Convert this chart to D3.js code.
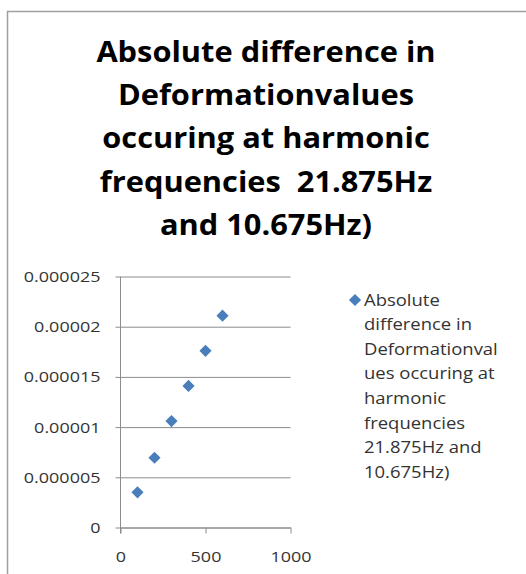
<!DOCTYPE html>
<html>
<head>
<meta charset="utf-8">
<script src="https://cdn.jsdelivr.net/npm/d3@7"></script>
<style>
    body { margin: 0; background: #fff; }
    svg { display: block; }
    text { white-space: pre; }
</style>
</head>
<body>
<div id="chart"></div>
<script>
// chart values
const xValues = [100, 200, 300, 400, 500, 600];
const yValues = [0.0000035, 0.00000695, 0.0000106, 0.0000141, 0.0000176, 0.0000211];
const xTicks = [0, 500, 1000];
const xTickLabels = ['0', '500', '1000'];
const yTicks = [0, 0.000005, 0.00001, 0.000015, 0.00002, 0.000025];
const yTickLabels = ['0', '0.000005', '0.00001', '0.000015', '0.00002', '0.000025'];
const titleLines = ['Absolute difference in', 'Deformationvalues', 'occuring at harmonic', 'frequencies  21.875Hz', 'and 10.675Hz)'];
const legendLines = ['Absolute', 'difference in', 'Deformationval', 'ues occuring at', 'harmonic', 'frequencies', '21.875Hz and', '10.675Hz)'];

const w = 526;
const h = 574;
const plot = { left: 120.5, right: 290.5, top: 276.5, bottom: 527.5 };
const blue = '#4a7ebb';
const grey = '#8c8c8c';
const font = '"Open Sans", "Liberation Sans", sans-serif';

const svg = d3.select('#chart')
    .append('svg')
    .attr('width', w)
    .attr('height', h);

// chart frame (cut off at right and bottom like the screenshot)
svg.append('rect')
    .attr('x', 7.5)
    .attr('y', 11.5)
    .attr('width', 560)
    .attr('height', 600)
    .attr('fill', 'none')
    .attr('stroke', '#a0a0a0')
    .attr('stroke-width', 1.5);

// stretched text helper, the source picture is wider than normal glyphs
let stretchText = (sel, x, y, sx) => {
    sel.attr('x', 0).attr('y', 0)
        .attr('transform', 'translate(' + x + ',' + y + ') scale(' + sx + ',1)');
};

// title
titleLines.forEach((line, i) => {
    svg.append('text')
        .text(line)
        .attr('text-anchor', 'middle')
        .style('font-family', font)
        .style('font-weight', 'bold')
        .style('font-size', '28px')
        .attr('fill', '#000')
        .call(stretchText, 266, 61.5 + i * 43.4, 1.1);
});

const xScale = d3.scaleLinear()
    .domain([0, 1000])
    .range([plot.left, plot.right]);

const yScale = d3.scaleLinear()
    .domain([0, 0.000025])
    .range([plot.bottom, plot.top]);

// gridlines
svg.append('g')
    .attr('transform', 'translate(' + plot.left + ',0)')
    .call(d3.axisLeft(yScale).tickValues(yTicks).tickSize(-(plot.right - plot.left)).tickFormat(''))
    .call(g => g.select('.domain').remove())
    .call(g => g.selectAll('line').attr('stroke', grey));

// y axis
const yAxis = d3.axisLeft(yScale)
    .tickValues(yTicks)
    .tickFormat((d, i) => yTickLabels[i])
    .tickSizeInner(5)
    .tickSizeOuter(0)
    .tickPadding(15);

svg.append('g')
    .attr('transform', 'translate(' + plot.left + ',0)')
    .call(yAxis)
    .call(g => g.select('.domain').attr('stroke', grey).attr('d', 'M0,' + plot.top + 'V' + (plot.bottom + 6)))
    .call(g => g.selectAll('line').attr('stroke', grey))
    .call(g => g.selectAll('text')
        .style('font-family', font)
        .style('font-size', '14.5px')
        .attr('fill', '#333')
        .attr('dy', '0.35em')
        .call(stretchText, -20, 0, 1.24));

// x axis
const xAxis = d3.axisBottom(xScale)
    .tickValues(xTicks)
    .tickFormat((d, i) => xTickLabels[i])
    .tickSizeInner(6)
    .tickSizeOuter(0)
    .tickPadding(0);

svg.append('g')
    .attr('transform', 'translate(0,' + plot.bottom + ')')
    .call(xAxis)
    .call(g => g.select('.domain').attr('stroke', grey))
    .call(g => g.selectAll('line').attr('stroke', grey))
    .call(g => g.selectAll('text')
        .style('font-family', font)
        .style('font-size', '14.5px')
        .attr('fill', '#333')
        .attr('dy', 0)
        .call(stretchText, 0, 34, 1.24));

// markers
const diamond = d3.symbol().type(d3.symbolSquare).size(74);

svg.append('g')
    .selectAll('path')
    .data(xValues)
    .enter()
    .append('path')
    .attr('d', diamond)
    .attr('fill', blue)
    .attr('transform', (d, i) => 'translate(' + xScale(d) + ',' + yScale(yValues[i]) + ') rotate(45)');

// legend
const legend = svg.append('g');

legend.append('path')
    .attr('d', diamond)
    .attr('fill', blue)
    .attr('transform', 'translate(355,300) rotate(45)');

legendLines.forEach((line, i) => {
    legend.append('text')
        .text(line)
        .style('font-family', font)
        .style('font-size', '16.5px')
        .attr('fill', '#333')
        .call(stretchText, 364, 305.5 + i * 24.6, 1.12);
});
</script>
</body>
</html>
